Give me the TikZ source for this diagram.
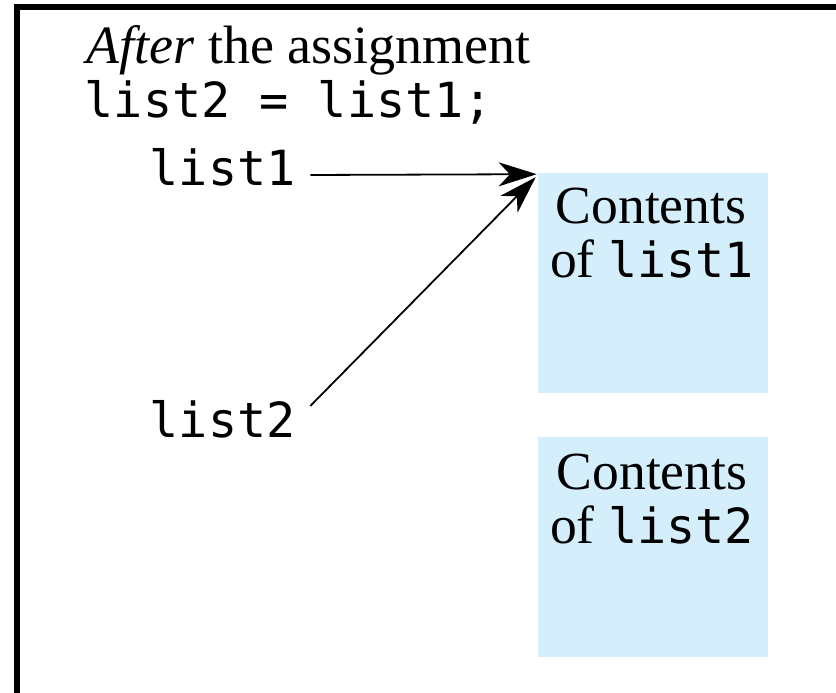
\documentclass[tikz,border=0pt]{standalone}
\usepackage{fontspec}
\setmainfont{Liberation Serif}
\setmonofont{DejaVu Sans Mono}
\usetikzlibrary{arrows.meta}
\definecolor{boxblue}{RGB}{212,238,252}
\newcommand{\codeword}[1]{{\fontsize{12.1}{15}\ttfamily #1}}
\begin{document}
\begin{tikzpicture}[x=0.25pt,y=-0.25pt,
  serif/.style={font=\fontsize{13.5}{16}\selectfont, inner sep=0pt, anchor=base west},
  mono/.style={font=\fontsize{12.1}{15}\ttfamily, inner sep=0pt, anchor=base west},
  varname/.style={font=\fontsize{12.1}{15}\ttfamily, inner ysep=0pt, inner xsep=3.5pt, anchor=base west},
  inbox/.style={font=\fontsize{13.4}{16}\selectfont, inner sep=0pt, anchor=base},
  contents/.style={fill=boxblue, draw=none, minimum width=57.5pt, minimum height=55pt, inner sep=0pt},
  arr/.style={line width=0.45pt, -{Stealth[length=9.5pt,width=6pt,inset=2.8pt]}},
  frame/.style={line width=1.4pt, line cap=butt}]
\useasboundingbox (0,0) rectangle (836,693);
\draw[frame] (17,693) -- (17,7) -- (836,7);
\node[serif] (title) at (86,64) {\textit{After} the assignment};
\node[mono] (stmt) at (84,118) {list2 = list1;};
\node[varname] (l1) at (135,186) {list1};
\node[varname] (l2) at (135,438) {list2};
\node[contents] (c1) at (652.5,283) {};
\node[contents] (c2) at (653,547) {};
\node[inbox] (t1a) at (651,224) {Contents};
\node[inbox] (t1b) at (652,278) {of \codeword{list1}};
\node[inbox] (t2a) at (652,490) {Contents};
\node[inbox] (t2b) at (652,544) {of \codeword{list2}};
\draw[arr] ([shift={(0,-11)}]l1.base east) -- ([shift={(0,2)}]c1.north west);
\draw[arr] ([shift={(0,-32)}]l2.base east) -- ([shift={(-1,5)}]c1.north west);
\end{tikzpicture}
\end{document}
